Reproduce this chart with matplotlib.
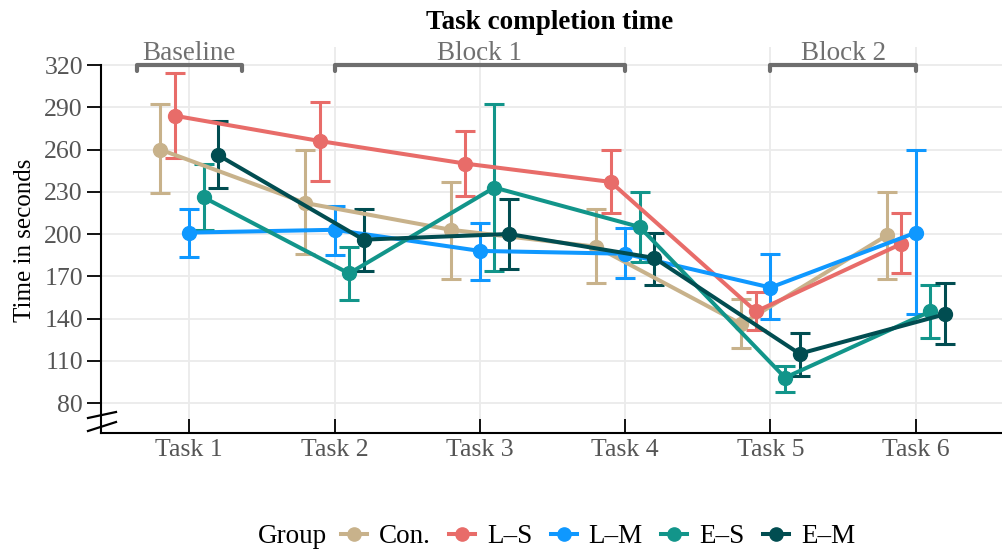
import matplotlib

matplotlib.use("Agg")
import matplotlib.pyplot as plt
import numpy as np
from matplotlib.lines import Line2D

tasks = ["Task 1", "Task 2", "Task 3", "Task 4", "Task 5", "Task 6"]
groups = ["Con.", "L\u2013S", "L\u2013M", "E\u2013S", "E\u2013M"]
colors = ["#c8b28b", "#e86c69", "#0f98ff", "#12958a", "#014d51"]

means = {
    "Con.": [260, 222, 203, 191, 136, 199],
    "L\u2013S": [284, 266, 250, 237, 145, 193],
    "L\u2013M": [201, 203, 188, 186, 162, 201],
    "E\u2013S": [226, 172, 233, 205, 98, 145],
    "E\u2013M": [256, 196, 200, 183, 115, 143],
}
upper = {
    "Con.": [292, 260, 237, 218, 154, 230],
    "L\u2013S": [314, 294, 273, 260, 159, 215],
    "L\u2013M": [218, 220, 208, 204, 186, 260],
    "E\u2013S": [250, 191, 292, 230, 106, 164],
    "E\u2013M": [280, 218, 225, 201, 130, 165],
}
lower = {
    "Con.": [229, 186, 168, 165, 119, 168],
    "L\u2013S": [254, 238, 227, 215, 132, 172],
    "L\u2013M": [184, 185, 167, 169, 140, 143],
    "E\u2013S": [203, 153, 174, 180, 88, 126],
    "E\u2013M": [233, 174, 175, 164, 99, 122],
}

blocks = [("Baseline", -0.36, 0.36), ("Block 1", 1, 3), ("Block 2", 4, 5)]
yticks = list(range(80, 321, 30))

plt.rcParams["font.family"] = ["Liberation Serif", "DejaVu Serif"]

fig = plt.figure(figsize=(10.03, 5.53), dpi=100)
ax = fig.add_axes([101 / 1003, 120 / 553, 902 / 1003, 386 / 553])

x = np.arange(len(tasks))
offsets = [-0.2, -0.1, 0.0, 0.1, 0.2]
for g, c, off in zip(groups, colors, offsets):
    m = np.array(means[g])
    err = [m - np.array(lower[g]), np.array(upper[g]) - m]
    ax.errorbar(x + off, m, yerr=err, color=c, lw=2.9, marker="o", ms=10,
                elinewidth=2.2, capsize=7.5, capthick=2.2, zorder=3)

ax.set_xlim(-0.607, 5.6)
ax.set_ylim(58.7, 332.8)
ax.set_xticks(x)
ax.set_xticklabels(tasks)
ax.set_yticks(yticks)
ax.grid(True, color="#ebebeb", lw=1.3, zorder=0)
ax.set_axisbelow(True)
ax.tick_params(axis="x", direction="in", length=10, width=1.3, labelsize=18.5,
               labelcolor="#555555", pad=4)
ax.tick_params(axis="y", direction="out", length=10, width=1.3, labelsize=18.5,
               labelcolor="#555555", pad=3)
for s in ["top", "right"]:
    ax.spines[s].set_visible(False)
ax.spines["left"].set_bounds(58.7, 320)
ax.spines["left"].set_linewidth(1.5)
ax.spines["bottom"].set_linewidth(1.5)
ax.set_ylabel("Time in seconds", fontsize=18, labelpad=6)

# axis break marks
bx = [-13 / 902, 15 / 902]
ax.plot(bx, [15 / 386, 21 / 386], color="black", lw=1.6, clip_on=False, transform=ax.transAxes)
ax.plot(bx, [2 / 386, 11 / 386], color="black", lw=1.6, clip_on=False, transform=ax.transAxes)

# block brackets
for label, a, b in blocks:
    ax.plot([a, a, b, b], [315.5, 320, 320, 315.5], color="#6e6e6e", lw=3,
            clip_on=False, solid_joinstyle="round", solid_capstyle="round", zorder=4)
    ax.text((a + b) / 2, 319.2, label, ha="center", va="bottom", fontsize=19.5,
            color="#707070")

fig.text(0.548, 0.96, "Task completion time", ha="center", va="center",
         fontsize=19.5, fontweight="bold")

handles = [Line2D([], [], color=c, lw=2.9, marker="o", ms=9.5) for c in colors]
fig.text(258 / 1003, 0.029, "Group", ha="left", va="center", fontsize=19.5)
fig.legend(handles, groups, loc="center left", bbox_to_anchor=(341 / 1003, 0.029),
           ncol=5, frameon=False, fontsize=19.5, handlelength=0.95,
           handletextpad=0.45, columnspacing=0.68, borderaxespad=0, borderpad=0)

fig.savefig("out.png", dpi=100)
